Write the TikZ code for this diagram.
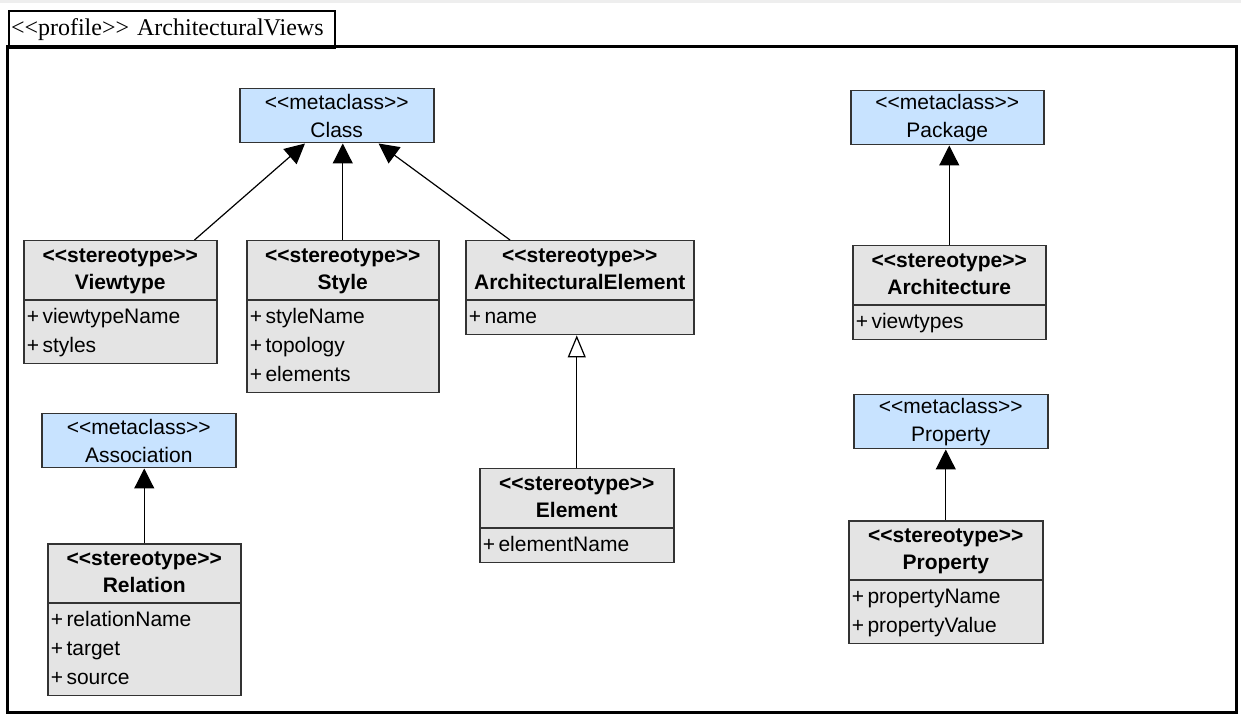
\documentclass[tikz,border=0pt]{standalone}
\usepackage{fontspec}
\setmainfont{Liberation Sans}
\newfontfamily\titlefont{Liberation Serif}
\usepackage{tikz}
\usetikzlibrary{shapes.multipart,arrows.meta,calc}
\definecolor{metablue}{HTML}{C8E3FF}
\definecolor{stgray}{HTML}{E4E4E4}
\definecolor{edge}{HTML}{333333}
\definecolor{band}{HTML}{EEEEEE}
\newcommand{\stereo}[1]{<\kern0pt<#1>\kern0pt>}
\newcommand{\sthead}[1]{{\renewcommand{\arraystretch}{0.93}%
  \begin{tabular}{@{}c@{}}\bfseries\stereo{stereotype}\\ \bfseries #1\end{tabular}}}
\newcommand{\stattr}[1]{\begin{tabular}{@{}l@{}}#1\end{tabular}}

\begin{document}
\begin{tikzpicture}[x=0.5pt, y=-0.5pt,
  meta/.style={draw=edge, line width=0.75pt, fill=metablue, minimum width=97pt,
               minimum height=27pt, align=center, anchor=north west, inner sep=0pt,
               font=\fontsize{10.5}{14}\selectfont},
  stype/.style={rectangle split, rectangle split parts=2, draw=edge, line width=0.75pt,
                fill=stgray, rectangle split part align={center,left}, anchor=north west,
                inner xsep=1.5pt, inner ysep=1pt, font=\fontsize{10.5}{14.5}\selectfont},
  gen/.style={-{Triangle[length=10pt,width=10pt]}, draw=black, line width=0.6pt},
  realize/.style={-{Triangle[open,length=11pt,width=9pt,fill=white]}, draw=black, line width=0.6pt}]
\useasboundingbox (0,0) rectangle (1241,715);
\fill[band] (0,0) rectangle (1241,3);
% profile tab and frame
\node[draw, line width=1pt, anchor=north west, minimum height=18.5pt, text width=161pt,
      align=left, inner xsep=1pt, inner ysep=0pt, font=\titlefont\fontsize{12}{14}\selectfont]
  (tab) at (8,10) {\stereo{profile} ArchitecturalViews};
\draw[line width=1.5pt] (7,47) rectangle (1236,712);
% metaclasses
\node[meta] (cls) at (239,88) {\stereo{metaclass}\\Class};
\node[meta, minimum width=96.5pt] (pkg) at (850,90) {\stereo{metaclass}\\Package};
\node[meta] (asc) at (41,413) {\stereo{metaclass}\\Association};
\node[meta] (prm) at (853,394) {\stereo{metaclass}\\Property};
% stereotypes
\node[stype, minimum width=96.5pt] (vt) at (23,240)
  {\sthead{Viewtype}\nodepart{second}\stattr{+\,viewtypeName\\+\,styles}};
\node[stype, minimum width=96pt] (sty) at (246,240)
  {\sthead{Style}\nodepart{second}\stattr{+\,styleName\\+\,topology\\+\,elements}};
\node[stype, minimum width=114pt] (ae) at (465,240)
  {\sthead{ArchitecturalElement}\nodepart{second}\stattr{+\,name}};
\node[stype, minimum width=97pt] (el) at (479,468)
  {\sthead{Element}\nodepart{second}\stattr{+\,elementName}};
\node[stype, minimum width=96.5pt] (arc) at (852,245)
  {\sthead{Architecture}\nodepart{second}\stattr{+\,viewtypes}};
\node[stype, minimum width=96.5pt] (rel) at (47,543)
  {\sthead{Relation}\nodepart{second}\stattr{+\,relationName\\+\,target\\+\,source}};
\node[stype, minimum width=97pt] (prp) at (848,520)
  {\sthead{Property}\nodepart{second}\stattr{+\,propertyName\\+\,propertyValue}};
% extensions
\draw[gen] ($(vt.north east)+(-23,0)$) -- ($(cls.south west)+(66,0)$);
\draw[gen] (sty.north) -- (sty.north |- cls.south);
\draw[gen] ($(ae.north west)+(45,0)$) -- ($(cls.south east)+(-56,0)$);
\draw[realize] (el.north) -- (el.north |- ae.south);
\draw[gen] (arc.north) -- (arc.north |- pkg.south);
\draw[gen] (rel.north) -- (rel.north |- asc.south);
\draw[gen] (prp.north) -- (prp.north |- prm.south);
\end{tikzpicture}
\end{document}
